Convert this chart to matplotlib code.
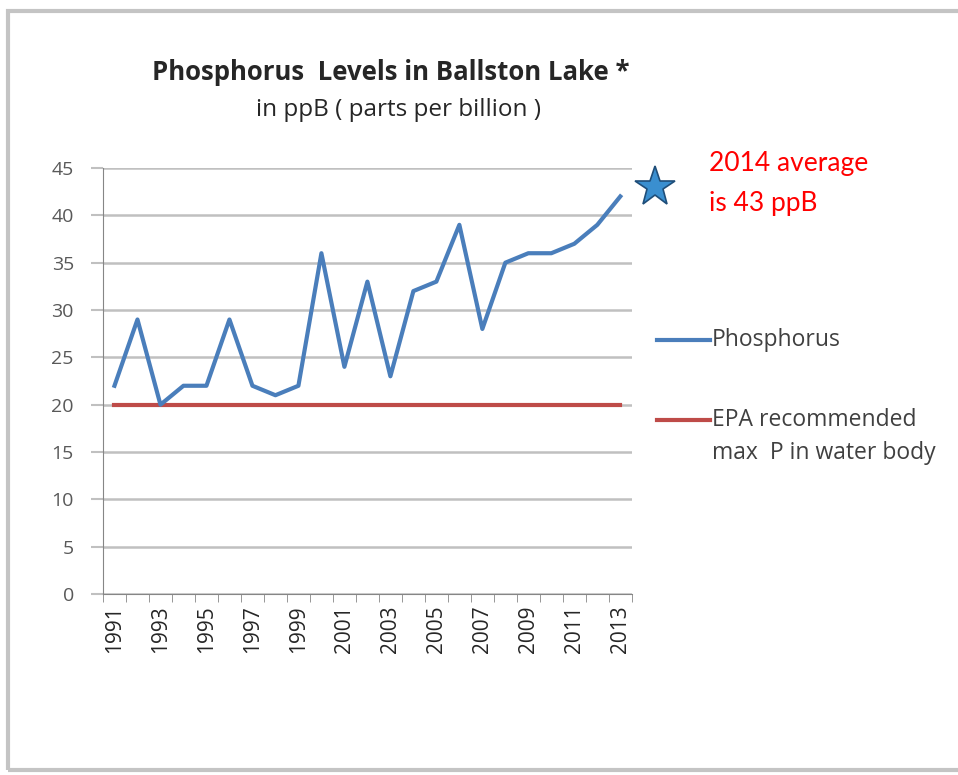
import matplotlib.pyplot as plt
from matplotlib.patches import Rectangle
from matplotlib.lines import Line2D

years = list(range(1991, 2014))
phosphorus = [22, 29, 20, 22, 22, 29, 22, 21, 22, 36, 24, 33, 23, 32, 33, 39, 28, 35, 36, 36, 37, 39, 42]
epa_max = [20] * len(years)
y_ticks = [0, 5, 10, 15, 20, 25, 30, 35, 40, 45]

plt.rcParams['font.family'] = ['Open Sans', 'DejaVu Sans']

fig = plt.figure(figsize=(9.58, 7.75), dpi=100)
fig.patch.set_facecolor('white')

# frame around the pasted chart
fig.add_artist(Rectangle((8 / 958, 5 / 775), 960 / 958, 759 / 775, transform=fig.transFigure,
                         fill=False, edgecolor='#c4c4c4', linewidth=3))

ax = fig.add_axes([0.1075, 0.2335, 0.552, 0.5497])
x = list(range(len(years)))
ax.plot(x, phosphorus, color='#4a7ebb', linewidth=3, solid_joinstyle='round', zorder=3)
ax.plot(x, epa_max, color='#be4b48', linewidth=3, zorder=2)

ax.set_xlim(-0.5, len(years) - 0.5)
ax.set_ylim(0, 45)
ax.set_yticks(y_ticks)
ax.set_yticklabels([str(v) for v in y_ticks], color='#595959', fontsize=14)
ax.yaxis.grid(True, color='#c0c0c0', linewidth=1.8)
ax.set_axisbelow(True)
ax.tick_params(axis='y', length=9, color='#c0c0c0', width=1.5, pad=12)

ax.set_xticks(x[::2])
ax.set_xticklabels([str(y) for y in years[::2]], rotation=90, fontsize=15, color='#262626')
ax.set_xticks([i - 0.5 for i in range(len(years) + 1)], minor=True)
ax.tick_params(axis='x', which='major', length=0, pad=8)
ax.tick_params(axis='x', which='minor', length=6, color='#868686')

for side in ['top', 'right']:
    ax.spines[side].set_visible(False)
ax.spines['left'].set_color('#868686')
ax.spines['bottom'].set_color('#868686')

fig.text(391 / 958, 1 - 73 / 775, 'Phosphorus  Levels in Ballston Lake *', ha='center', va='center',
         fontsize=18.5, fontweight='bold', color='#262626')
fig.text(398 / 958, 1 - 110 / 775, 'in ppB ( parts per billion )', ha='center', va='center',
         fontsize=17.5, color='#262626')

# legend drawn by hand to match the layout
fig.add_artist(Line2D([657 / 958, 710 / 958], [1 - 340 / 775] * 2, color='#4a7ebb', linewidth=3))
fig.text(712 / 958, 1 - 340 / 775, 'Phosphorus', va='center', fontsize=16.5, color='#404040')
fig.add_artist(Line2D([657 / 958, 710 / 958], [1 - 420 / 775] * 2, color='#be4b48', linewidth=3))
fig.text(712 / 958, 1 - 420 / 775, 'EPA recommended', va='center', fontsize=16.5, color='#404040')
fig.text(712 / 958, 1 - 453 / 775, 'max  P in water body', va='center', fontsize=16.5, color='#404040')

# 2014 note
fig.add_artist(Line2D([655 / 958], [1 - 187 / 775], marker='*', markersize=30,
                      markerfacecolor='#3a8fd0', markeredgecolor='#1f4e79', markeredgewidth=1.2))
fig.text(709 / 958, 1 - 163 / 775, '2014 average', va='center', fontsize=19, color='red',
         family=['Lato', 'DejaVu Sans'])
fig.text(709 / 958, 1 - 203 / 775, 'is 43 ppB', va='center', fontsize=19, color='red',
         family=['Lato', 'DejaVu Sans'])

fig.savefig('out.png', dpi=100)
